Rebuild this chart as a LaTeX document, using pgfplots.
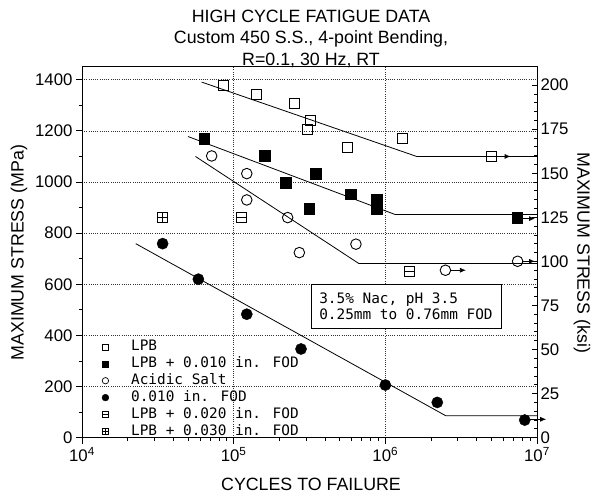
\documentclass[border=0pt]{standalone}
\usepackage{pgfplots}
\pgfplotsset{compat=1.18}
\usepackage{fontspec}
\setmainfont{Liberation Sans}
\newfontfamily\monofont{DejaVu Sans Mono}
\usetikzlibrary{arrows.meta}

\pgfdeclareplotmark{sqplus}{%
  \pgfpathrectangle{\pgfqpoint{-\pgfplotmarksize}{-\pgfplotmarksize}}{\pgfqpoint{2\pgfplotmarksize}{2\pgfplotmarksize}}%
  \pgfpathmoveto{\pgfqpoint{-\pgfplotmarksize}{0pt}}%
  \pgfpathlineto{\pgfqpoint{\pgfplotmarksize}{0pt}}%
  \pgfpathmoveto{\pgfqpoint{0pt}{-\pgfplotmarksize}}%
  \pgfpathlineto{\pgfqpoint{0pt}{\pgfplotmarksize}}%
  \pgfusepathqstroke}
\pgfdeclareplotmark{sqminus}{%
  \pgfpathrectangle{\pgfqpoint{-\pgfplotmarksize}{-\pgfplotmarksize}}{\pgfqpoint{2\pgfplotmarksize}{2\pgfplotmarksize}}%
  \pgfpathmoveto{\pgfqpoint{-\pgfplotmarksize}{0pt}}%
  \pgfpathlineto{\pgfqpoint{\pgfplotmarksize}{0pt}}%
  \pgfusepathqstroke}

\newcommand{\lblfont}{\fontsize{16.8}{20}\selectfont}
\newcommand{\ttlfont}{\fontsize{17.8}{21}\selectfont}
\newcommand{\legfont}{\monofont\fontsize{14.4}{16}\selectfont}

\begin{document}
\begin{tikzpicture}
\begin{axis}[
  at={(0pt,0pt)}, anchor=south west,
  scale only axis, width=455pt, height=370.7pt,
  xmode=log, xmin=1e4, xmax=1e7, ymin=0, ymax=1450,
  xtick={1e4,1e5,1e6,1e7},
  xticklabels={10\textsuperscript{4},10\textsuperscript{5},10\textsuperscript{6},10\textsuperscript{7}},
  ytick={0,200,...,1400},
  minor ytick={100,300,...,1300},
  xtick pos=bottom, ytick pos=left, tick align=outside,
  major tick length=6pt, minor tick length=3.5pt,
  tick style={black, line width=0.9pt},
  grid=major,
  major grid style={black!80, line width=0.6pt, dash pattern=on 0.8pt off 1.4pt},
  tick label style={font=\lblfont},
  /pgf/number format/assume math mode=true,
  /pgf/number format/1000 sep={},
  axis line style={line width=1pt},
  clip=false,
  legend cell align=left,
  legend style={at={(axis description cs:0.0374,0.267)}, anchor=north west,
    draw=none, fill=none, inner sep=0pt, font=\legfont, row sep=0.9pt,
    nodes={inner sep=0.5pt, text height=11.5pt, text depth=3.5pt},
    /tikz/every odd column/.append style={column sep=19pt}},
  legend image code/.code={\path (0pt,0pt) (12pt,0pt); \draw[#1] plot coordinates {(6pt,0pt)};},
]
% legend images
\addlegendimage{only marks, mark=square, mark size=3pt, mark options={line width=0.7pt}}
\addlegendentry{LPB}
\addlegendimage{only marks, mark=square*, mark size=3pt, mark options={fill=black}}
\addlegendentry{LPB + 0.010 in. FOD}
\addlegendimage{only marks, mark=o, mark size=3.2pt, mark options={line width=0.7pt}}
\addlegendentry{Acidic Salt}
\addlegendimage{only marks, mark=*, mark size=3.4pt, mark options={fill=black}}
\addlegendentry{0.010 in. FOD}
\addlegendimage{only marks, mark=sqminus, mark size=3pt, mark options={line width=0.6pt}}
\addlegendentry{LPB + 0.020 in. FOD}
\addlegendimage{only marks, mark=sqplus, mark size=3pt, mark options={line width=0.6pt}}
\addlegendentry{LPB + 0.030 in. FOD}

% fitted lines
\addplot[forget plot, black, line width=0.8pt] coordinates {(6.15e4,1391) (1.61e6,1100) (1e7,1100)};
\addplot[forget plot, black, line width=0.8pt] coordinates {(5.0e4,1178) (1.16e6,873) (1e7,873)};
\addplot[forget plot, black, line width=0.8pt] coordinates {(5.6e4,1100) (6.7e5,681) (1e7,681)};
\addplot[forget plot, black, line width=0.8pt] coordinates {(2.26e4,759) (2.5e6,86) (1e7,86)};

% run-out arrows
\addplot[forget plot, black, line width=0.8pt, -{Latex[length=6pt,width=5pt]}] coordinates {(5.35e6,1100) (6.7e6,1100)};
\addplot[forget plot, black, line width=0.8pt, -{Latex[length=6pt,width=5pt]}] coordinates {(8.0e6,857) (9.7e6,857)};
\addplot[forget plot, black, line width=0.8pt, -{Latex[length=6pt,width=5pt]}] coordinates {(2.7e6,655) (3.4e6,655)};
\addplot[forget plot, black, line width=0.8pt, -{Latex[length=6pt,width=5pt]}] coordinates {(8.0e6,690) (9.7e6,690)};
\addplot[forget plot, black, line width=0.8pt, -{Latex[length=6pt,width=5pt]}] coordinates {(9.0e6,72) (1.15e7,72)};

% LPB
\addplot[forget plot, only marks, mark=square, mark size=5pt, mark options={line width=0.9pt}] coordinates {
(8.5e4,1378) (1.42e5,1343) (2.5e5,1309) (3.05e5,1205) (3.2e5,1241) (5.6e5,1137) (1.3e6,1172) (5.0e6,1100)};
% LPB + 0.010 FOD
\addplot[forget plot, only marks, mark=square*, mark size=5.3pt, mark options={fill=black}] coordinates {
(6.4e4,1170) (1.6e5,1102) (2.21e5,998) (3.15e5,896) (3.49e5,1033) (5.93e5,952) (8.77e5,931) (8.77e5,895) (7.4e6,861)};
% Acidic salt
\addplot[forget plot, only marks, mark=o, mark size=5.3pt, mark options={line width=0.9pt}] coordinates {
(7.16e4,1102) (1.22e5,1033) (1.22e5,930) (2.27e5,861) (2.71e5,724) (6.4e5,757) (2.49e6,655) (7.45e6,690)};
% 0.010 FOD
\addplot[forget plot, only marks, mark=*, mark size=5.6pt, mark options={fill=black}] coordinates {
(3.4e4,759) (5.85e4,620) (1.22e5,483) (2.78e5,347) (1.0e6,206) (2.2e6,138) (8.3e6,69)};
% LPB + 0.020 FOD
\addplot[forget plot, only marks, mark=sqminus, mark size=5pt, mark options={line width=0.7pt}] coordinates {
(1.12e5,861) (1.43e6,652)};
% LPB + 0.030 FOD
\addplot[forget plot, only marks, mark=sqplus, mark size=5pt, mark options={line width=0.7pt}] coordinates {
(3.4e4,861)};

\node[draw=black, line width=0.8pt, fill=white, align=left, font=\legfont,
  minimum width=190pt, minimum height=44pt, inner sep=0pt]
  at (axis description cs:0.712,0.355) {3.5\% Nac, pH 3.5\\0.25mm to 0.76mm FOD};
\end{axis}

\begin{axis}[
  at={(0pt,0pt)}, anchor=south west,
  scale only axis, width=455pt, height=370.7pt,
  xmode=log, xmin=1e4, xmax=1e7, ymin=0, ymax=210.3,
  axis x line=none, axis y line*=right,
  ytick={0,25,...,200}, minor y tick num=4,
  tick align=inside,
  major tick length=5pt, minor tick length=3pt,
  tick style={black, line width=0.9pt},
  axis line style={line width=1pt},
  tick label style={font=\lblfont},
  /pgf/number format/assume math mode=true,
]
\addplot[draw=none, forget plot] coordinates {(1e5,0)};
\end{axis}

% titles and axis labels
\node[font=\ttlfont, anchor=base] at (229pt,415.5pt) {HIGH CYCLE FATIGUE DATA};
\node[font=\ttlfont, anchor=base] at (229pt,394.2pt) {Custom 450 S.S., 4-point Bending,};
\node[font=\ttlfont, anchor=base] at (229pt,372.6pt) {R=0.1, 30 Hz, RT};
\node[font=\ttlfont, anchor=base] at (229pt,-53pt) {CYCLES TO FAILURE};
\node[font=\ttlfont, rotate=90] at (-63pt,185pt) {MAXIMUM STRESS (MPa)};
\node[font=\ttlfont, rotate=-90] at (500pt,185pt) {MAXIMUM STRESS (ksi)};

\pgfresetboundingbox
\path[use as bounding box] (-82pt,-64.3pt) rectangle (512pt,437.7pt);
\end{tikzpicture}
\end{document}
